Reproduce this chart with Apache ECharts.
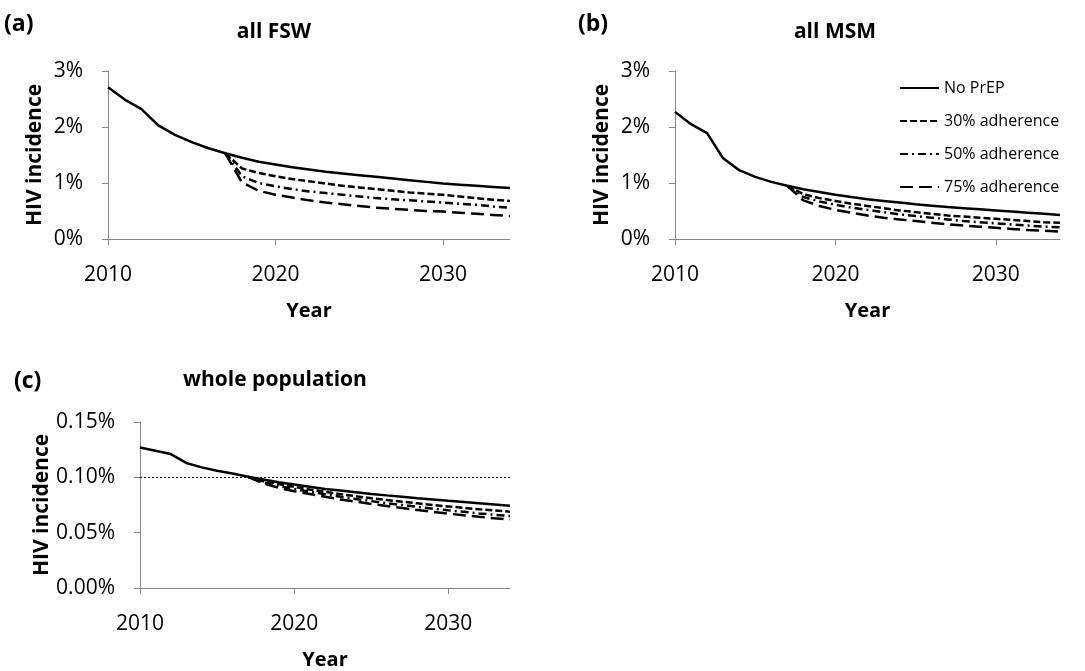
<!DOCTYPE html>
<html><head><meta charset="utf-8">
<script src="https://cdn.jsdelivr.net/npm/echarts@6/dist/echarts.min.js"></script>
<style>html,body{margin:0;padding:0;background:#fff}#c{width:1085px;height:671px}</style>
</head><body><div id="c"></div>
<script>
// ---------- data ----------
const seriesNames = ['No PrEP', '30% adherence', '50% adherence', '75% adherence'];
const years = [2010,2011,2012,2013,2014,2015,2016,2017,2018,2019,2020,2021,2022,2023,2024,2025,2026,2027,2028,2029,2030,2031,2032,2033,2034];
const prepYears = [2017,2018,2019,2020,2021,2022,2023,2024,2025,2026,2027,2028,2029,2030,2031,2032,2033,2034];
const xTicks = [2010, 2020, 2030];

// (a) all FSW, % per year
const fswNoPrep = [2.71,2.49,2.32,2.03,1.86,1.73,1.62,1.53,1.45,1.38,1.33,1.28,1.24,1.20,1.17,1.14,1.11,1.08,1.05,1.02,0.99,0.97,0.95,0.93,0.91];
const fsw30 = [1.53,1.26,1.18,1.12,1.07,1.03,0.99,0.95,0.92,0.89,0.86,0.83,0.81,0.79,0.76,0.73,0.70,0.68];
const fsw50 = [1.53,1.12,1.00,0.94,0.89,0.85,0.82,0.79,0.76,0.73,0.71,0.69,0.67,0.65,0.63,0.61,0.58,0.56];
const fsw75 = [1.53,1.01,0.86,0.79,0.74,0.69,0.65,0.62,0.59,0.56,0.54,0.52,0.50,0.49,0.47,0.45,0.43,0.41];

// (b) all MSM
const msmNoPrep = [2.27,2.05,1.89,1.44,1.23,1.11,1.02,0.95,0.89,0.84,0.79,0.75,0.71,0.68,0.65,0.62,0.595,0.57,0.55,0.53,0.51,0.49,0.47,0.45,0.43];
const msm30 = [0.95,0.80,0.73,0.68,0.63,0.59,0.55,0.51,0.48,0.45,0.42,0.40,0.38,0.36,0.34,0.32,0.30,0.29];
const msm50 = [0.95,0.75,0.67,0.61,0.56,0.52,0.48,0.44,0.41,0.38,0.35,0.32,0.30,0.28,0.26,0.24,0.22,0.21];
const msm75 = [0.95,0.69,0.59,0.52,0.47,0.42,0.38,0.35,0.32,0.29,0.26,0.24,0.22,0.20,0.18,0.16,0.15,0.13];

// (c) whole population
const popNoPrep = [0.127,0.124,0.121,0.113,0.109,0.106,0.1035,0.1005,0.098,0.0955,0.0935,0.0915,0.0895,0.088,0.0865,0.085,0.0837,0.0825,0.0812,0.080,0.0788,0.0777,0.0765,0.0754,0.0743];
const pop30 = [0.1005,0.0965,0.094,0.0915,0.089,0.087,0.0848,0.083,0.081,0.0795,0.078,0.0765,0.075,0.0737,0.0724,0.0711,0.070,0.069];
const pop50 = [0.1005,0.0955,0.092,0.0895,0.087,0.0848,0.0825,0.0805,0.0785,0.0767,0.075,0.0733,0.0717,0.0702,0.0688,0.0674,0.0662,0.065];
const pop75 = [0.1005,0.0945,0.0905,0.0875,0.085,0.0825,0.080,0.078,0.076,0.074,0.0722,0.0705,0.0688,0.0672,0.0657,0.0643,0.063,0.0618];
const popReference = 0.10;

// ---------- styling ----------
const FONT = '"Open Sans", "Noto Sans", sans-serif';
const AXIS_GRAY = '#868686';
const dashTypes = ['solid', [7, 3], [8, 4, 2, 4], [13, 6]];
const LW = 2.5;

function pairs(xs, ys) { return xs.map((x, i) => [x, ys[i]]); }

const grids = [
  { left: 108, top: 71, width: 402, height: 168 },
  { left: 675, top: 71, width: 385, height: 168 },
  { left: 140, top: 422, width: 370, height: 168.5 }
];

function xAxis(gi) {
  return {
    type: 'value', gridIndex: gi, min: 2010, max: 2034, interval: 10,
    name: 'Year', nameLocation: 'middle', nameGap: 62,
    nameTextStyle: { fontFamily: FONT, fontSize: 20, fontWeight: 'bold', color: '#000' },
    axisLine: { show: true, lineStyle: { color: AXIS_GRAY, width: 1 } },
    axisTick: { show: true, length: 6, inside: false, customValues: xTicks, lineStyle: { color: AXIS_GRAY } },
    axisLabel: { show: true, customValues: xTicks, margin: 26, fontFamily: FONT, fontSize: 21, color: '#000',
      formatter: v => String(Math.round(v)) },
    splitLine: { show: false }
  };
}
function yAxis(gi, max, interval, fmt) {
  return {
    type: 'value', gridIndex: gi, min: 0, max: max, interval: interval,
    name: 'HIV incidence', nameLocation: 'middle', nameGap: 62, nameRotate: 90,
    nameTextStyle: { fontFamily: FONT, fontSize: 21, fontWeight: 'bold', color: '#000' },
    axisLine: { show: true, lineStyle: { color: AXIS_GRAY, width: 1 } },
    axisTick: { show: true, length: 6, inside: false, lineStyle: { color: AXIS_GRAY } },
    axisLabel: { show: true, margin: 25, fontFamily: FONT, fontSize: 21, color: '#000', formatter: fmt },
    splitLine: { show: false }
  };
}

function lineSeries(gi, nameIdx, xs, ys, extra) {
  return Object.assign({
    type: 'line', name: seriesNames[nameIdx], xAxisIndex: gi, yAxisIndex: gi,
    data: pairs(xs, ys), symbol: 'none', showSymbol: false, smooth: false,
    lineStyle: { color: '#000', width: LW, type: dashTypes[nameIdx] },
    itemStyle: { color: '#000' },
    z: 10 - nameIdx, silent: true
  }, extra || {});
}

const series = [];
[[fswNoPrep, fsw30, fsw50, fsw75], [msmNoPrep, msm30, msm50, msm75], [popNoPrep, pop30, pop50, pop75]].forEach((set, gi) => {
  series.push(lineSeries(gi, 3, prepYears, set[3]));
  series.push(lineSeries(gi, 2, prepYears, set[2]));
  series.push(lineSeries(gi, 1, prepYears, set[1]));
  const extra = gi === 2 ? {
    markLine: {
      silent: true, symbol: ['none', 'none'], label: { show: false },
      lineStyle: { color: '#000', width: 1, type: [2, 2] },
      data: [{ yAxis: popReference }]
    }
  } : {};
  series.push(lineSeries(gi, 0, years, set[0], extra));
});

const pctInt = v => Math.round(v) + '%';
const pct2 = v => v.toFixed(2) + '%';

const textEl = (txt, x, y, align, size) => ({
  type: 'text', x: x, y: y,
  style: { text: txt, fontFamily: FONT, fontSize: size, fontWeight: 'bold', fill: '#000', textAlign: align, textVerticalAlign: 'middle' }
});

const option = {
  animation: false,
  backgroundColor: '#fff',
  grid: grids,
  xAxis: [xAxis(0), xAxis(1), xAxis(2)],
  yAxis: [yAxis(0, 3, 1, pctInt), yAxis(1, 3, 1, pctInt), yAxis(2, 0.15, 0.05, pct2)],
  legend: {
    data: seriesNames, orient: 'vertical', left: 899, top: 78, padding: 0,
    itemWidth: 39, itemHeight: 14, itemGap: 13, selectedMode: false,
    itemStyle: { opacity: 0 },
    textStyle: { fontFamily: FONT, fontSize: 16, color: '#000', lineHeight: 20 }
  },
  graphic: [
    textEl('(a)', 4, 24, 'left', 23),
    textEl('all FSW', 274, 32, 'center', 21),
    textEl('(b)', 578, 24, 'left', 23),
    textEl('all MSM', 835, 32, 'center', 21),
    textEl('(c)', 14, 381, 'left', 23),
    textEl('whole population', 275, 380, 'center', 21)
  ],
  series: series
};

const chart = echarts.init(document.getElementById('c'), null, { renderer: 'canvas' });
chart.setOption(option);
</script>
</body></html>
